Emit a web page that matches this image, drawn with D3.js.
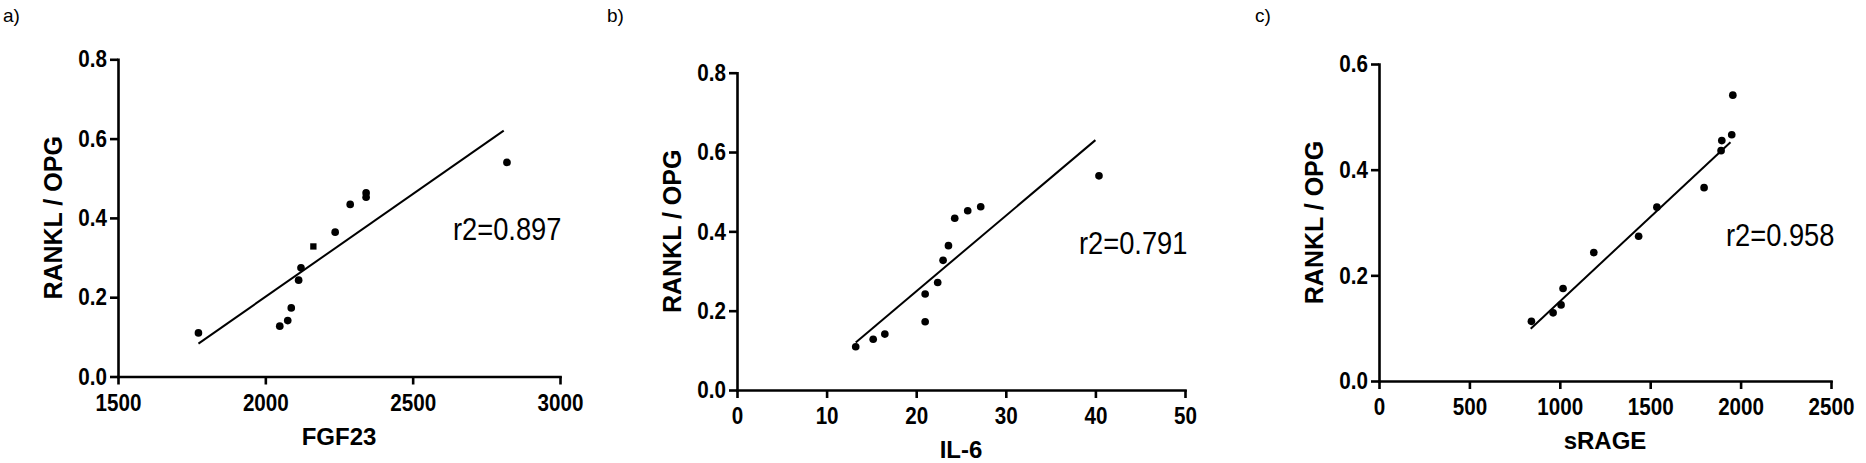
<!DOCTYPE html>
<html><head><meta charset="utf-8">
<script src="https://cdn.jsdelivr.net/npm/d3@7"></script>
<style>body{margin:0;background:#fff;} svg{display:block;background:#fff}</style>
</head><body>
<svg id="chart" width="1866" height="463"></svg>
<script>
// ---- data ----
const panelLabels = ["a)", "b)", "c)"];
const xTitles = ["FGF23", "IL-6", "sRAGE"];
const yTitle = "RANKL / OPG";
const r2Labels = ["r2=0.897", "r2=0.791", "r2=0.958"];

const fgf23  = [1773, 2049, 2076, 2088, 2113, 2121, 2163, 2237, 2288, 2342, 2342, 2820];
const ratioA = [0.110, 0.127, 0.141, 0.173, 0.243, 0.274, 0.328, 0.364, 0.434, 0.452, 0.463, 0.540];
const symbolsA = ["circle","circle","circle","circle","circle","circle","square","circle","circle","circle","circle","circle"];

const il6    = [13.25, 15.2, 16.5, 21.0, 21.0, 22.4, 23.0, 23.6, 24.3, 25.75, 27.2, 40.4];
const ratioB = [0.109, 0.128, 0.141, 0.172, 0.242, 0.271, 0.327, 0.364, 0.433, 0.452, 0.462, 0.540];

const srage  = [843, 963, 1007, 1018, 1188, 1436, 1537, 1798, 1892, 1896, 1951, 1957];
const ratioC = [0.113, 0.129, 0.144, 0.175, 0.243, 0.274, 0.329, 0.366, 0.436, 0.455, 0.466, 0.541];

const fitAx = [1773, 2809], fitAy = [0.083, 0.620];
const fitBx = [13.25, 40.0], fitBy = [0.120, 0.630];
const fitCx = [839, 1944],  fitCy = [0.099, 0.452];

const xDomA = [1500, 3000], xTicksA = [1500, 2000, 2500, 3000];
const xDomB = [0, 50],      xTicksB = [0, 10, 20, 30, 40, 50];
const xDomC = [0, 2500],    xTicksC = [0, 500, 1000, 1500, 2000, 2500];
const yDomAB = [0, 0.8],    yTicksAB = [0, 0.2, 0.4, 0.6, 0.8];
const yDomC = [0, 0.6],     yTicksC = [0, 0.2, 0.4, 0.6];

// ---- layout ----
const panels = [
  {label: panelLabels[0], xs: fgf23, ys: ratioA, sym: symbolsA, fx: fitAx, fy: fitAy,
   xDom: xDomA, xTicks: xTicksA, yDom: yDomAB, yTicks: yTicksAB, xTitle: xTitles[0], r2: r2Labels[0],
   left: 118, right: 560, top: 59.3, bottom: 376.5, r2x: 453, r2y: 240, labX: 3},
  {label: panelLabels[1], xs: il6, ys: ratioB, sym: null, fx: fitBx, fy: fitBy,
   xDom: xDomB, xTicks: xTicksB, yDom: yDomAB, yTicks: yTicksAB, xTitle: xTitles[1], r2: r2Labels[1],
   left: 737, right: 1185, top: 72.7, bottom: 390, r2x: 1079, r2y: 254, labX: 607},
  {label: panelLabels[2], xs: srage, ys: ratioC, sym: null, fx: fitCx, fy: fitCy,
   xDom: xDomC, xTicks: xTicksC, yDom: yDomC, yTicks: yTicksC, xTitle: xTitles[2], r2: r2Labels[2],
   left: 1379, right: 1831, top: 64, bottom: 381, r2x: 1726, r2y: 246, labX: 1255}
];

const svg = d3.select("#chart");
const FONT = "'Liberation Sans', Arial, sans-serif";
const SX = 0.86;          // horizontal squeeze for condensed tick labels
const TICK = 8, PADX = 9, PADY = 3;

panels.forEach(p => {
  const g = svg.append("g");
  const x = d3.scaleLinear().domain(p.xDom).range([p.left, p.right]);
  const y = d3.scaleLinear().domain(p.yDom).range([p.bottom, p.top]);

  const xa = d3.axisBottom(x).tickValues(p.xTicks).tickSize(TICK).tickSizeOuter(0)
    .tickPadding(PADX).tickFormat(d3.format("d"));
  const ya = d3.axisLeft(y).tickValues(p.yTicks).tickSize(TICK).tickSizeOuter(0)
    .tickPadding(PADY).tickFormat(d3.format(".1f"));

  const gx = g.append("g").attr("transform", `translate(0,${p.bottom})`).call(xa);
  const gy = g.append("g").attr("transform", `translate(${p.left},0)`).call(ya);

  [gx, gy].forEach(a => {
    a.attr("font-family", FONT).attr("font-size", 24).attr("font-weight", "bold");
    a.selectAll("path.domain").attr("stroke", "#000").attr("stroke-width", 2.6).attr("stroke-linecap", "square");
    a.selectAll(".tick line").attr("stroke", "#000").attr("stroke-width", 2.6);
    a.selectAll(".tick text").attr("fill", "#000");
  });
  gx.selectAll(".tick text").attr("transform", `scale(${SX},1)`);
  gy.selectAll(".tick text").attr("x", -(TICK + PADY) / SX).attr("transform", `scale(${SX},1)`);

  // fit line
  const line = d3.line().x(d => x(d[0])).y(d => y(d[1]));
  g.append("path").datum(d3.zip(p.fx, p.fy)).attr("d", line)
    .attr("fill", "none").attr("stroke", "#000").attr("stroke-width", 2);

  // points
  const pts = d3.zip(p.xs, p.ys).map((d, i) => ({x: d[0], y: d[1], s: p.sym ? p.sym[i] : "circle"}));
  g.selectAll("path.pt").data(pts).join("path").attr("class", "pt")
    .attr("transform", d => `translate(${x(d.x)},${y(d.y)})`)
    .attr("d", d => d3.symbol().type(d.s === "square" ? d3.symbolSquare : d3.symbolCircle).size(d.s === "square" ? 40 : 46)())
    .attr("fill", "#000");

  // axis titles
  g.append("text").attr("x", (p.left + p.right) / 2).attr("y", p.bottom + 68)
    .attr("text-anchor", "middle").attr("font-family", FONT)
    .attr("font-size", 24).attr("font-weight", "bold").attr("fill", "#000").text(p.xTitle);
  const cy = (p.top + p.bottom) / 2;
  g.append("text").attr("transform", `translate(${p.left - 56},${cy}) rotate(-90)`)
    .attr("text-anchor", "middle").attr("font-family", FONT)
    .attr("font-size", 25).attr("font-weight", "bold").attr("fill", "#000").text(yTitle);

  // r2 annotation
  g.append("text").attr("transform", `translate(${p.r2x},${p.r2y}) scale(0.88,1)`)
    .attr("font-family", FONT).attr("font-size", 31)
    .attr("fill", "#000").text(p.r2);

  // panel label
  g.append("text").attr("x", p.labX).attr("y", 22)
    .attr("font-family", FONT).attr("font-size", 19)
    .attr("fill", "#000").text(p.label);
});
</script>
</body></html>
